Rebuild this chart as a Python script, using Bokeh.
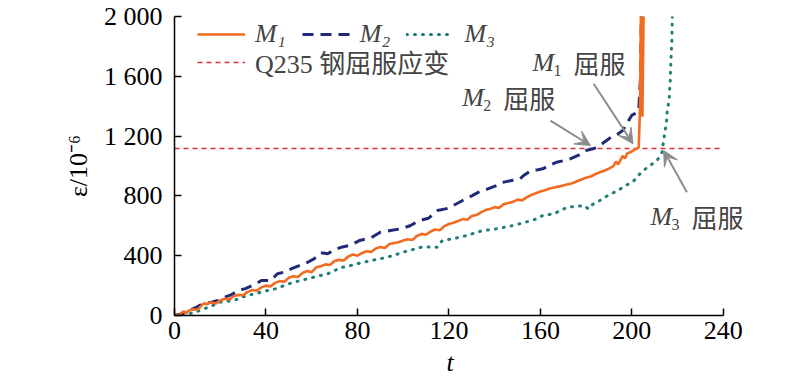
from bokeh.plotting import figure
from bokeh.models import Range1d, FixedTicker, Legend, LegendItem, Label, Arrow, VeeHead, Title
from bokeh.embed import file_html
from bokeh.resources import INLINE

# ---------------- data ----------------
m1_t = [0, 2, 4, 5, 6, 8, 10, 12, 13, 14, 16, 18, 20, 22, 24, 26, 28, 30, 32, 34, 36, 38, 40,
        42, 44, 46, 48, 50, 52, 54, 56, 58, 60, 62, 64, 66, 68, 70, 72, 74, 76, 78, 80, 82, 84,
        86, 88, 90, 92, 94, 96, 98, 100, 102, 104, 106, 108, 110, 112, 114, 116, 118, 120, 122,
        124, 126, 128, 130, 132, 134, 136, 138, 140, 142, 144, 146, 148, 150, 152, 154, 156, 158,
        160, 162, 164, 166, 168, 170, 172, 174, 176, 178, 180, 182, 184, 186, 188, 190, 192, 193,
        194, 195, 196, 197, 198, 199, 200, 201, 202, 203, 203.6, 204, 204.6, 205.2]
m1_v = [0, 5, 28, 15, 30, 42, 38, 70, 82, 75, 88, 80, 100, 112, 108, 130, 138, 135, 158, 170,
        165, 188, 200, 195, 218, 230, 226, 252, 262, 258, 285, 298, 290, 322, 330, 342, 338, 365,
        372, 368, 395, 408, 400, 418, 430, 425, 448, 458, 452, 478, 485, 490, 502, 510, 505, 532,
        546, 540, 562, 575, 570, 598, 612, 620, 632, 645, 640, 665, 672, 690, 705, 712, 725, 720,
        745, 752, 760, 775, 770, 790, 806, 818, 830, 838, 850, 856, 862, 870, 878, 885, 898, 910,
        922, 930, 945, 958, 968, 982, 1000, 1030, 1010, 1040, 1068, 1050, 1085, 1090, 1098, 1108,
        1115, 1125, 1400, 2100, 1330, 2100]

m2_t = [0, 3, 6, 9, 12, 16, 19, 22, 25, 28, 31, 34, 36, 38, 42, 45, 48, 51, 54, 57, 61, 64, 67,
        70, 73, 77, 81, 86, 90, 95, 99, 103, 107, 111, 115, 119, 122, 126, 130, 133, 137, 141,
        144, 148, 151, 153, 156, 159, 161, 164, 167, 170, 173, 177, 180, 183, 185, 188, 191, 194,
        196, 198, 200, 202, 203, 203.8, 204.2]
m2_v = [0, 10, 33, 50, 75, 89, 100, 122, 140, 167, 180, 200, 215, 234, 234, 279, 290, 312, 330,
        346, 379, 420, 413, 440, 457, 470, 502, 520, 557, 570, 580, 600, 635, 650, 702, 715, 736,
        769, 800, 825, 847, 870, 892, 905, 914, 940, 970, 975, 981, 1005, 1025, 1035, 1048, 1075,
        1104, 1115, 1126, 1160, 1193, 1215, 1237, 1290, 1340, 1355, 1370, 1600, 2100]

m3_t = [0, 3, 6, 9, 12, 15, 18, 20, 23, 26, 29, 32, 35, 38, 41, 44, 47, 50, 53, 55, 58, 61, 64,
        67, 70, 72, 77, 81, 86, 90, 93, 97, 100, 104, 108, 112, 115, 117, 121, 125, 129, 132, 136,
        141, 145, 148, 152, 156, 159, 161, 164, 166, 169, 172, 176, 179, 181, 183, 186, 188, 191,
        193, 195, 198, 201, 203, 206, 207, 209, 211, 212.5, 213.2, 213.9, 214.5, 215.2, 215.5,
        216.3, 216.5, 216.8, 216.9, 217.1, 217.3, 217.5, 217.7, 218]
m3_v = [0, 0, 10, 22, 40, 56, 75, 89, 95, 100, 120, 134, 145, 156, 168, 178, 195, 212, 225, 234,
        245, 256, 268, 279, 300, 318, 334, 350, 368, 380, 390, 408, 424, 440, 457, 458, 457, 500,
        512, 524, 540, 557, 570, 580, 592, 602, 618, 635, 650, 669, 676, 680, 705, 725, 730, 736,
        713, 745, 769, 790, 814, 830, 847, 875, 903, 940, 981, 992, 1015, 1037, 1070, 1092, 1170,
        1230, 1304, 1378, 1438, 1505, 1572, 1639, 1706, 1780, 1839, 1995, 2100]

yield_strain = 1117
yield_line_t = [0, 240]

x_ticks = [0, 40, 80, 120, 160, 200, 240]
y_ticks = [0, 400, 800, 1200, 1600, 2000]
y_tick_labels = ["0", "400", "800", "1 200", "1 600", "2 000"]

series_labels = ["M\u2081", "M\u2082", "M\u2083"]
yield_label = "Q235 钢屈服应变"
ann_text = "屈服"
# annotation anchors (t, strain) and arrows (tail -> head)
ann_pos = [(156.5, 1692), (125.8, 1458), (208.1, 662)]
ann_sub = ["1", "2", "3"]
arrows = [(183.3, 1550, 200.5, 1148), (164.4, 1304, 181.9, 1137), (224.1, 825, 213.9, 1104)]

# ---------------- styles ----------------
SERIF = "'Liberation Serif', 'Noto Sans CJK SC'"
CJK = "'Noto Sans CJK SC'"
FS = "26px"
C1, C2, C3, CR, CA = "#F26B21", "#1F2A78", "#1E7E78", "#D8353A", "#8C8C8C"

# frame extends a little past t=240 (axis drawn only to 240) so side labels are not clipped
p = figure(frame_width=606, frame_height=299,
           x_range=Range1d(0, 265), y_range=Range1d(0, 2000),
           output_backend="svg", toolbar_location=None,
           min_border_left=174, min_border_right=10, min_border_top=16, min_border_bottom=12)
p.outline_line_color = None
p.xgrid.visible = False
p.ygrid.visible = False
p.background_fill_color = "white"

r_y = p.line(yield_line_t, [yield_strain, yield_strain], line_color=CR, line_width=1.6, line_dash="5 4")
r3 = p.line(m3_t, m3_v, line_color=C3, line_width=3, line_dash="1 7", line_cap="round")
r2 = p.line(m2_t, m2_v, line_color=C2, line_width=3, line_dash="11 7")
r1 = p.line(m1_t, m1_v, line_color=C1, line_width=2.6)

for ax in (p.xaxis[0], p.yaxis[0]):
    ax.axis_line_color = "black"
    ax.axis_line_width = 1.5
    ax.major_tick_line_color = "black"
    ax.major_tick_line_width = 1.5
    ax.major_tick_in = 7
    ax.major_tick_out = 0
    ax.minor_tick_line_color = None
    ax.major_label_text_font = SERIF
    ax.major_label_text_font_size = FS
    ax.major_label_text_color = "black"
    ax.axis_label_text_font = SERIF
    ax.axis_label_text_font_size = FS
    ax.axis_label_text_color = "black"

p.xaxis.bounds = (0, 240)
p.xaxis.ticker = FixedTicker(ticks=x_ticks)
p.yaxis.ticker = FixedTicker(ticks=y_ticks)
p.yaxis.major_label_overrides = {t: l for t, l in zip(y_ticks, y_tick_labels)}
p.xaxis.major_label_standoff = 6
p.yaxis.major_label_standoff = 12
p.yaxis.axis_label = "ε/10⁻⁶"
p.yaxis.axis_label_text_font_style = "normal"
p.yaxis.axis_label_standoff = 8

# x-axis title "t", centred under the t = 0…240 axis
p.add_layout(Title(text="t", align="left", offset=272, standoff=8,
                   text_font=SERIF, text_font_size=FS, text_font_style="italic",
                   text_color="black"), "below")

leg1 = Legend(items=[LegendItem(label=series_labels[0], renderers=[r1]),
                     LegendItem(label=series_labels[1], renderers=[r2]),
                     LegendItem(label=series_labels[2], renderers=[r3])],
              orientation="horizontal", location=(23, 266), padding=0, margin=0,
              glyph_width=48, label_standoff=10, spacing=16,
              label_text_font=SERIF, label_text_font_size=FS, label_text_font_style="italic",
              border_line_color=None, background_fill_alpha=0)
leg2 = Legend(items=[LegendItem(label=yield_label, renderers=[r_y])],
              location=(23, 235), padding=0, margin=0,
              glyph_width=48, label_standoff=10,
              label_text_font=SERIF, label_text_font_size=FS,
              border_line_color=None, background_fill_alpha=0)
p.add_layout(leg1)
p.add_layout(leg2)

for (xs, ys, xe, ye) in arrows:
    p.add_layout(Arrow(x_start=xs, y_start=ys, x_end=xe, y_end=ye,
                       line_color=CA, line_width=2,
                       end=VeeHead(size=15, fill_color=CA, line_color=CA)))

for (ax_, ay_), sub in zip(ann_pos, ann_sub):
    p.add_layout(Label(x=ax_, y=ay_, text="M", text_font=SERIF, text_font_size=FS,
                       text_font_style="italic", text_baseline="middle", text_align="left"))
    p.add_layout(Label(x=ax_, y=ay_, text=sub, text_font=SERIF, text_font_size="16px",
                       x_offset=21, y_offset=-8, text_baseline="middle", text_align="left"))
    p.add_layout(Label(x=ax_, y=ay_, text=ann_text, text_font=CJK, text_font_size=FS,
                       x_offset=41, text_baseline="middle", text_align="left"))

open("out.html", "w").write(file_html(p, INLINE))
